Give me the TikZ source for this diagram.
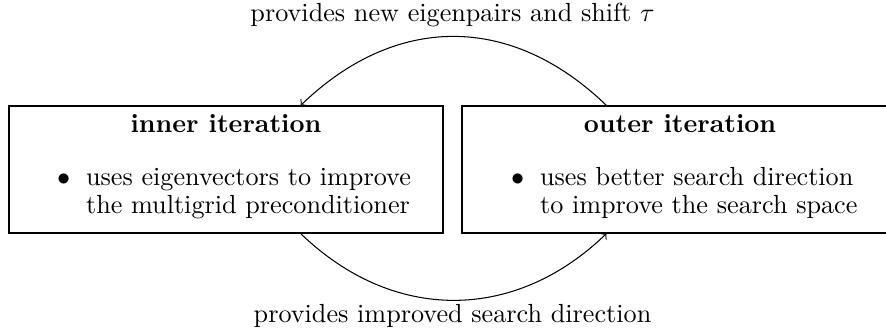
\documentclass[tikz,border=0pt]{standalone}
\begin{document}
\begin{tikzpicture}[x=0.382pt,y=-0.382pt,
  box/.style={draw, line width=0.4pt, inner sep=0pt, minimum height=48.5pt},
  title/.style={anchor=base, font=\bfseries},
  itemtext/.style={anchor=base west, inner sep=0pt},
  lbl/.style={anchor=base},
  flow/.style={->}]
\useasboundingbox (0,0) rectangle (886,332);
\node[box, minimum width=165.8pt] (inner) at (226,169.5) {};
\node[box, minimum width=165.8pt] (outer) at (679,169.5) {};
\node[title] (innertitle) at (226,133) {inner iteration};
\node[title] (outertitle) at (680,133) {outer iteration};
\node[itemtext] (inneritem) at (56.5,185) {\begin{tabular}[t]{@{}c@{\hspace{6.1pt}}l@{}}$\bullet$ & uses eigenvectors to improve\\[-1.2pt] & the multigrid preconditioner\end{tabular}};
\node[itemtext] (outeritem) at (510.5,185) {\begin{tabular}[t]{@{}c@{\hspace{6.1pt}}l@{}}$\bullet$ & uses better search direction\\[-1.2pt] & to improve the search space\end{tabular}};
\coordinate (ts) at ([xshift=55.4pt]outer.north west);
\coordinate (te) at ([xshift=-54.6pt]inner.north east);
\coordinate (bs) at ([xshift=-54.6pt]inner.south east);
\coordinate (be) at ([xshift=55.4pt]outer.south west);
\draw[flow] (ts) .. controls +(-95,-92) and +(95,-92) .. (te);
\draw[flow] (bs) .. controls +(92,89) and +(-92,89) .. (be);
\node[lbl] (toplabel) at (452.5,21.7) {provides new eigenpairs and shift $\tau$};
\node[lbl] (botlabel) at (452.5,322) {provides improved search direction};
\end{tikzpicture}
\end{document}
